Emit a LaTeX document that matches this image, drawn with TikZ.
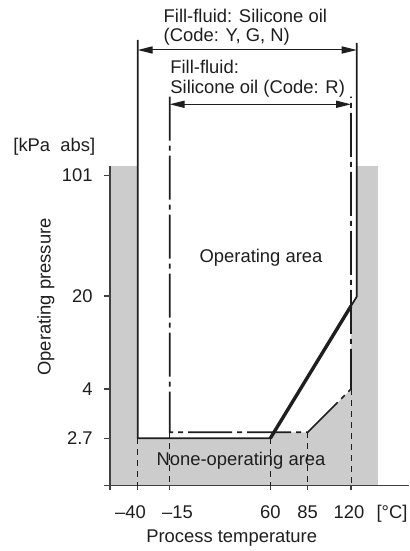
\documentclass[tikz,border=0pt]{standalone}
\usepackage{fontspec}
\setmainfont{Liberation Sans}
\usetikzlibrary{arrows.meta}
\definecolor{bggray}{HTML}{CCCCCC}
\definecolor{ink}{HTML}{1E1E1E}
\begin{document}
\begin{tikzpicture}[x=0.5pt,y=-0.5pt,
  lbl/.style={inner sep=0pt, font=\fontsize{9.2}{11}\selectfont, text=ink},
  bdry/.style={line width=0.85pt, ink},
  heavy/.style={line width=1.7pt, ink},
  dashdot/.style={line width=0.85pt, ink, dash pattern=on 22pt off 2.5pt on 2.5pt off 2.5pt},
  guide/.style={line width=0.45pt, ink, dash pattern=on 3pt off 2.5pt},
  axisline/.style={line width=0.55pt, black!75},
  dimarrow/.style={line width=0.5pt, ink, {Triangle[length=7.5pt,width=3.6pt]}-{Triangle[length=7.5pt,width=3.6pt]}}
]
\useasboundingbox (0,0) rectangle (409,551);

% key points
\coordinate (A1) at (137.7,40);
\coordinate (A2) at (137.7,438.3);
\coordinate (A3) at (270.3,438.3);
\coordinate (A4) at (356.7,296.7);
\coordinate (A5) at (356.7,43);
\coordinate (AT) at (351,306);
\coordinate (B1) at (169.7,96.7);
\coordinate (B2) at (169.7,432.3);
\coordinate (B3) at (307.7,432.3);
\coordinate (B4) at (351,389);
\coordinate (B5) at (351,96.7);
\coordinate (P1) at (137.7,50);
\coordinate (P2) at (356.7,50);
\coordinate (Q1) at (169.7,104.3);
\coordinate (Q2) at (351,104.3);
\coordinate (O) at (110,485.7);

% grey non-operating background
\fill[bggray] (110,166) rectangle (378,486);
\fill[white] (A1) -- (A2) -- (A3) -- (A4) -- (A5) -- cycle;
\fill[white] (B1) -- (B2) -- (B3) -- (B4) -- (B5) -- cycle;

% axes
\coordinate (YT) at (110,166);
\coordinate (YB) at (110,490);
\coordinate (XL) at (104,485.7);
\coordinate (XR) at (409,485.7);
\draw[axisline] (YT) -- (YB);
\draw[axisline] (XL) -- (XR);
\foreach \yy in {175.7,296,389,438.3} \draw[axisline] (104,\yy) -- (110,\yy);
\foreach \xx in {137.7,169.7,270.3,307.7,351} \draw[axisline] (\xx,485.7) -- (\xx,490);

% guide lines
\draw[guide] (A2) -- (A2 |- O);
\draw[guide] (B2) -- (B2 |- O);
\draw[guide] (A3) -- (A3 |- O);
\draw[guide] (B3) -- (B3 |- O);
\draw[guide] (B4) -- (B4 |- O);

% boundaries
\draw[bdry, line join=miter] (A1) -- (A2) -- (A3) -- (A4) -- (A5);
\draw[heavy] (A3) -- (AT);
\draw[dashdot] (B1) -- (B2) -- (B3) -- (B4) -- (B5);

% dimension arrows
\draw[dimarrow] (P1) -- (P2);
\draw[dimarrow] (Q1) -- (Q2);

% texts
\node[lbl, anchor=base west] (t1) at (163.3,22.7) {Fill-fluid: Silicone oil};
\node[lbl, anchor=base west] (t2) at (163.3,41.7) {(Code: Y, G, N)};
\node[lbl, anchor=base west] (t3) at (170,73.3) {Fill-fluid:};
\node[lbl, anchor=base west] (t4) at (170,93.3) {Silicone oil (Code: R)};
\node[lbl, anchor=base west] (unit) at (13,151) {[kPa\ \ abs]};
\node[lbl, anchor=base east] (y101) at (93,181) {101};
\node[lbl, anchor=base east] (y20) at (93,302) {20};
\node[lbl, anchor=base east] (y4) at (93,395) {4};
\node[lbl, anchor=base east] (y27) at (93,444.5) {2.7};
\node[lbl, anchor=base, rotate=90] (ylab) at (50.5,297) {Operating pressure};
\node[lbl, anchor=base] (x1) at (130.5,518) {–40};
\node[lbl, anchor=base] (x2) at (177.5,518) {–15};
\node[lbl, anchor=base] (x3) at (270.3,518) {60};
\node[lbl, anchor=base] (x4) at (307.5,518) {85};
\node[lbl, anchor=base] (x5) at (349,518) {120};
\node[lbl, anchor=base] (x6) at (392,518) {[°C]};
\node[lbl, anchor=base] (xlab) at (231.7,542.5) {Process temperature};
\node[lbl, anchor=base] (op) at (261,262) {Operating area};
\node[lbl, anchor=base] (nop) at (241,465.5) {None-operating area};
\end{tikzpicture}
\end{document}
